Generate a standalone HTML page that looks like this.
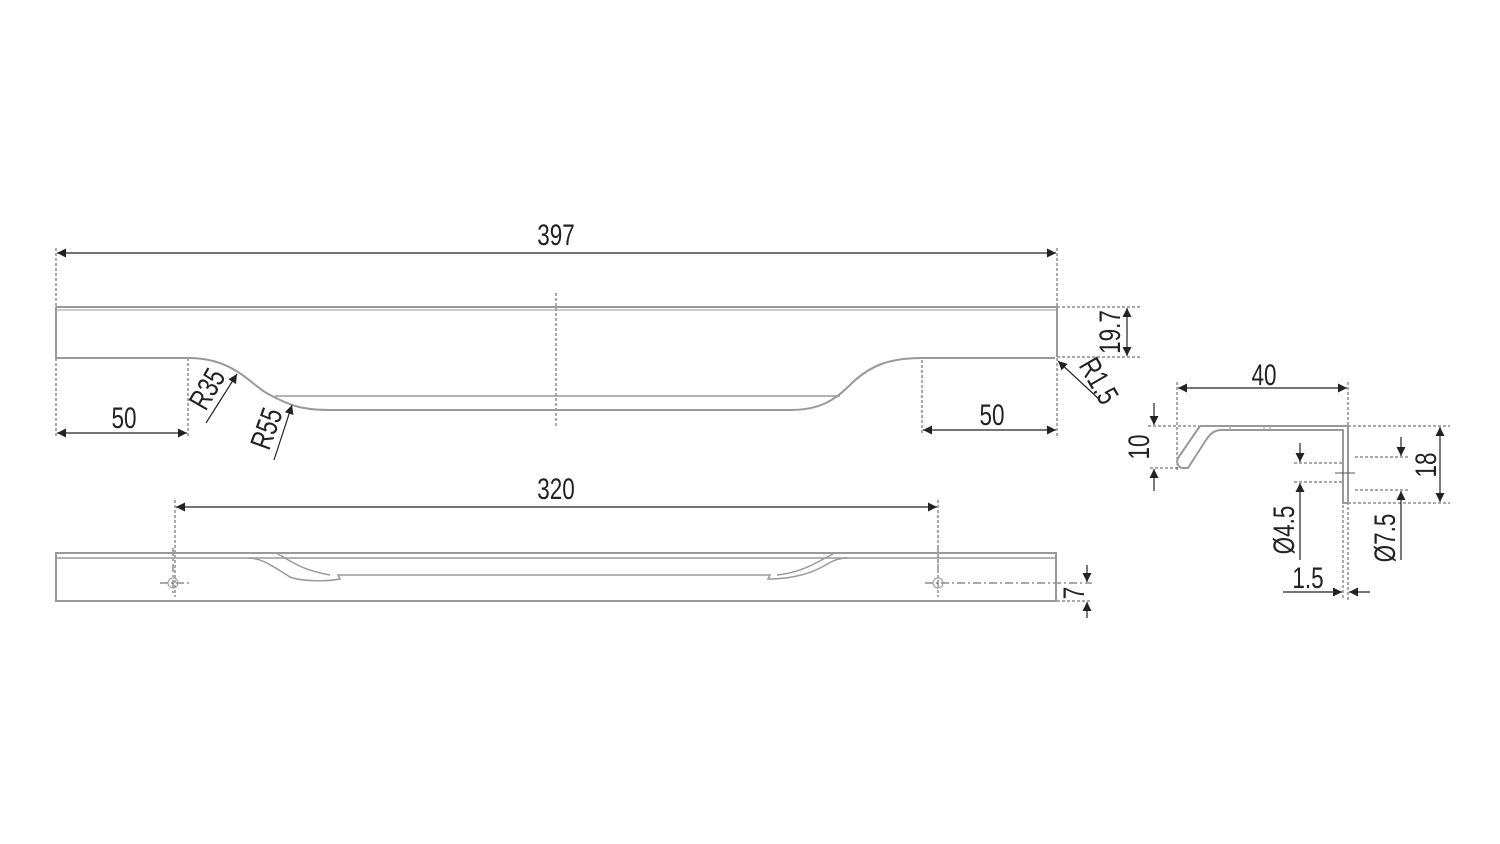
<!DOCTYPE html>
<html><head><meta charset="utf-8"><style>
html,body{margin:0;padding:0;background:#fff;}
svg{display:block;}
text{font-family:"Liberation Sans",sans-serif;font-size:30px;fill:#222;}
</style></head><body>
<svg width="1500" height="844" viewBox="0 0 1500 844" xmlns="http://www.w3.org/2000/svg">
<defs>
<marker id="a" viewBox="0 0 10 10" refX="10" refY="5" markerWidth="14" markerHeight="9" orient="auto-start-reverse" markerUnits="userSpaceOnUse"><path d="M0,0L10,5L0,10z" fill="#222"/></marker>
</defs>
<g fill="none" stroke="#555" stroke-width="1" stroke-dasharray="3,2">
<line x1="56" y1="248" x2="56" y2="436"/>
<line x1="1057" y1="248" x2="1057" y2="436"/>
<line x1="188" y1="358" x2="188" y2="436"/>
<line x1="922" y1="360" x2="922" y2="434"/>
<line x1="1057" y1="307" x2="1140" y2="307"/>
<line x1="1057" y1="357" x2="1140" y2="357"/>
<line x1="556" y1="293" x2="556" y2="428"/>
<line x1="175" y1="500" x2="175" y2="597"/>
<line x1="938" y1="500" x2="938" y2="597"/>
<line x1="1057" y1="601" x2="1092" y2="601"/>
<line x1="1177" y1="382" x2="1177" y2="470"/>
<line x1="1348" y1="382" x2="1348" y2="600"/>
<line x1="1343" y1="505" x2="1343" y2="600"/>
<line x1="1148" y1="426" x2="1200" y2="426"/>
<line x1="1150" y1="468" x2="1188" y2="468"/>
<line x1="1348" y1="426" x2="1450" y2="426"/>
<line x1="1348" y1="503" x2="1450" y2="503"/>
<line x1="1355" y1="457" x2="1408" y2="457"/>
<line x1="1355" y1="490" x2="1408" y2="490"/>
<line x1="1294" y1="463" x2="1343" y2="463"/>
<line x1="1294" y1="482" x2="1343" y2="482"/>
</g>
<g fill="none" stroke="#555" stroke-width="1" stroke-dasharray="8,3,2,3">
<line x1="160" y1="583" x2="192" y2="583"/>
<line x1="173" y1="548" x2="173" y2="595"/>
<line x1="925" y1="583" x2="1092" y2="583"/>
<line x1="938" y1="548" x2="938" y2="595"/>
</g>
<g fill="none" stroke="#999" stroke-width="2">
<path d="M56,307H1057V357"/>
<line x1="56" y1="310" x2="1057" y2="310" stroke-width="1"/>
<path d="M56,307V358H188C235,358 250,385 270,395C290,405 300,410 330,410H790C820,410 835,400 850,385C870,365 890,358 922,358H1055"/>
<line x1="275" y1="396" x2="840" y2="396" stroke-width="1.5"/>
<rect x="56" y="553" width="1000" height="48"/>
<line x1="56" y1="558" x2="1056" y2="558" stroke-width="1.5"/>
<path d="M248,558C262,558 272,566 290,577C300,581 325,582 340,579L338,575H770L768,579C785,579 805,576 820,568C830,563 835,558 848,558" stroke-width="1.5"/>
<path d="M276,553C290,560 300,570 330,575" stroke-width="1.5"/>
<path d="M777,575C805,572 820,560 835,553" stroke-width="1.5"/>
<circle cx="173" cy="583" r="5" stroke-width="1"/>
<circle cx="938" cy="583" r="5" stroke-width="1"/>
<path d="M1200,426H1348V503H1343V430H1222C1214,430 1210,434 1206,440L1188,468H1183C1178,468 1176,462 1178,458L1200,426"/>
<line x1="1230" y1="426" x2="1230" y2="430" stroke-width="1"/>
<line x1="1264" y1="426" x2="1264" y2="430" stroke-width="1"/>
<line x1="1270" y1="426" x2="1270" y2="430" stroke-width="1"/>
</g>
<line x1="1335" y1="473" x2="1355" y2="473" stroke="#555" stroke-width="1"/>
<g stroke="#222" stroke-width="1.2" fill="none">
<line x1="57" y1="253" x2="1056" y2="253" marker-start="url(#a)" marker-end="url(#a)"/>
<line x1="57" y1="433" x2="187" y2="433" marker-start="url(#a)" marker-end="url(#a)"/>
<line x1="923" y1="430" x2="1056" y2="430" marker-start="url(#a)" marker-end="url(#a)"/>
<line x1="1127" y1="308" x2="1127" y2="356" marker-start="url(#a)" marker-end="url(#a)"/>
<line x1="1100" y1="400" x2="1058" y2="361" marker-end="url(#a)"/>
<line x1="206" y1="423" x2="237" y2="374" marker-end="url(#a)"/>
<line x1="274" y1="460" x2="292" y2="405" marker-end="url(#a)"/>
<line x1="176" y1="507" x2="937" y2="507" marker-start="url(#a)" marker-end="url(#a)"/>
<line x1="1087" y1="565" x2="1087" y2="582" marker-end="url(#a)"/>
<line x1="1087" y1="618" x2="1087" y2="602" marker-end="url(#a)"/>
<line x1="1178" y1="388" x2="1347" y2="388" marker-start="url(#a)" marker-end="url(#a)"/>
<line x1="1154" y1="403" x2="1154" y2="425" marker-end="url(#a)"/>
<line x1="1154" y1="491" x2="1154" y2="469" marker-end="url(#a)"/>
<line x1="1440" y1="427" x2="1440" y2="502" marker-start="url(#a)" marker-end="url(#a)"/>
<line x1="1300" y1="443" x2="1300" y2="462" marker-end="url(#a)"/>
<line x1="1300" y1="560" x2="1300" y2="483" marker-end="url(#a)"/>
<line x1="1401" y1="437" x2="1401" y2="456" marker-end="url(#a)"/>
<line x1="1401" y1="560" x2="1401" y2="491" marker-end="url(#a)"/>
<line x1="1283" y1="592" x2="1342" y2="592" marker-end="url(#a)"/>
<line x1="1370" y1="592" x2="1349" y2="592" marker-end="url(#a)"/>
</g>
<text transform="translate(556,245) scale(0.75,1)" text-anchor="middle">397</text>
<text transform="translate(124,428) scale(0.75,1)" text-anchor="middle">50</text>
<text transform="translate(992,425) scale(0.75,1)" text-anchor="middle">50</text>
<text transform="translate(556,499) scale(0.75,1)" text-anchor="middle">320</text>
<text transform="translate(1264,385) scale(0.75,1)" text-anchor="middle">40</text>
<text transform="translate(1308,588) scale(0.75,1)" text-anchor="middle">1.5</text>
<text transform="translate(1120,332) rotate(-90) scale(0.75,1)" text-anchor="middle">19.7</text>
<text transform="translate(1090,386) rotate(60) scale(0.75,1)" text-anchor="middle">R1.5</text>
<text transform="translate(216,394) rotate(-60) scale(0.75,1)" text-anchor="middle">R35</text>
<text transform="translate(276,432) rotate(-70) scale(0.75,1)" text-anchor="middle">R55</text>
<text transform="translate(1084,593) rotate(-90) scale(0.75,1)" text-anchor="middle">7</text>
<text transform="translate(1149,447) rotate(-90) scale(0.75,1)" text-anchor="middle">10</text>
<text transform="translate(1436,465) rotate(-90) scale(0.75,1)" text-anchor="middle">18</text>
<text transform="translate(1294,530) rotate(-90) scale(0.75,1)" text-anchor="middle">Ø4.5</text>
<text transform="translate(1395,538) rotate(-90) scale(0.75,1)" text-anchor="middle">Ø7.5</text>
</svg>
</body></html>
